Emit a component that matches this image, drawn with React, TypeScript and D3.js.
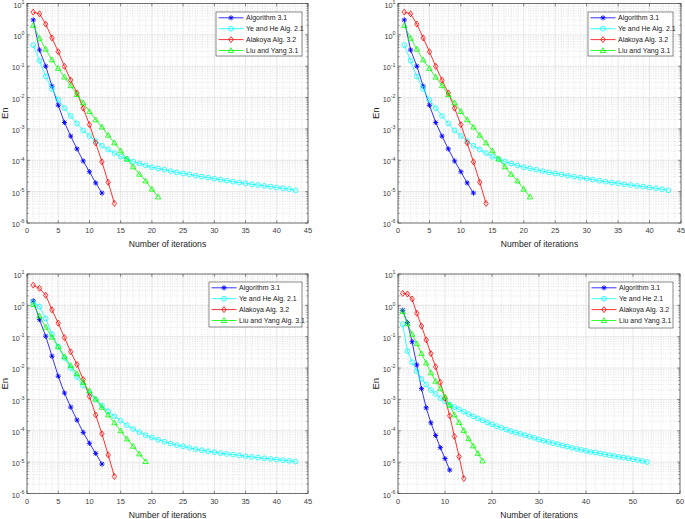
import React from 'react';
import * as d3 from 'd3';

// ---------- data ----------
const seriesNames = ['Algorithm 3.1', 'Ye and He Alg. 2.1', 'Alakoya Alg. 3.2', 'Liu and Yang 3.1'];
const seriesNames3 = ['Algorithm 3.1', 'Ye and He Alg. 2.1', 'Alakoya Alg. 3.2', 'Liu and Yang Alg. 3.1'];
const seriesNames4 = ['Algorithm 3.1', 'Ye and He 2.1', 'Alakoya Alg. 3.2', 'Liu and Yang 3.1'];

const p1Alg31 = [3.0, 0.33, 0.1, 0.023, 0.0057, 0.0016, 5.9e-4, 2.3e-4, 9.5e-5, 4.3e-5, 1.9e-5, 9e-6];
const p1YeHe = [0.47, 0.15, 0.047, 0.019, 0.0085, 4.6e-3, 2.6e-3, 1.5e-3, 9e-4, 6e-4,
  4.1e-4, 2.9e-4, 2.2e-4, 1.7e-4, 1.3e-4, 1.1e-4, 9.1e-5, 7.9e-5, 6.9e-5, 6.0e-5,
  5.5e-5, 5.0e-5, 4.5e-5, 4.1e-5, 3.8e-5, 3.56e-5, 3.23e-5, 3.0e-5, 2.79e-5, 2.6e-5,
  2.41e-5, 2.24e-5, 2.08e-5, 1.94e-5, 1.85e-5, 1.71e-5, 1.63e-5, 1.52e-5, 1.45e-5, 1.35e-5,
  1.28e-5, 1.2e-5, 1.1e-5];
const p1Alakoya = [5.3, 4.7, 2.2, 0.8, 0.29, 0.099, 0.036, 0.014, 4.6e-3, 1.37e-3, 3.6e-4, 8.9e-5, 2e-5, 4.2e-6];
const p1Liu = [2.0, 0.78, 0.35, 0.16, 0.085, 0.045, 0.024, 0.0125, 6.8e-3, 3.6e-3, 1.96e-3,
  1.15e-3, 6.3e-4, 3.6e-4, 2e-4, 1.1e-4, 6.2e-5, 3.6e-5, 2.2e-5, 1.2e-5, 6.8e-6];

const p3Alg31 = [1.4, 0.35, 0.104, 0.024, 5.5e-3, 1.6e-3, 5.7e-4, 2.2e-4, 8.9e-5, 4e-5, 1.9e-5, 8.7e-6];
const p3YeHe = [1.23, 0.92, 0.38, 0.12, 0.048, 0.021, 0.010, 5.2e-3, 2.8e-3, 1.6e-3,
  9.8e-4, 6.4e-4, 4.2e-4, 2.9e-4, 2.1e-4, 1.5e-4, 1.15e-4, 9.1e-5, 7.2e-5, 6.1e-5,
  5.2e-5, 4.5e-5, 3.9e-5, 3.5e-5, 3.2e-5, 2.85e-5, 2.6e-5, 2.4e-5, 2.23e-5, 2.08e-5,
  1.92e-5, 1.83e-5, 1.74e-5, 1.65e-5, 1.54e-5, 1.47e-5, 1.40e-5, 1.33e-5, 1.27e-5, 1.21e-5,
  1.15e-5, 1.10e-5, 1.05e-5];
const p3Alakoya = [4.4, 3.5, 2.1, 0.72, 0.27, 0.094, 0.033, 0.013, 4.3e-3, 1.25e-3, 3.2e-4, 8e-5, 1.7e-5, 3.5e-6];
const p3Liu = [1.07, 0.46, 0.2, 0.097, 0.048, 0.023, 0.012, 6.6e-3, 3.5e-3, 1.86e-3, 1.03e-3,
  5.6e-4, 3.2e-4, 1.8e-4, 1.0e-4, 5.5e-5, 3.2e-5, 1.83e-5, 1.05e-5];

const p4Alg31 = [0.7, 0.28, 0.069, 0.0126, 2.2e-3, 5.4e-4, 1.8e-4, 7.1e-5, 2.9e-5, 1.3e-5, 5.6e-6];
const p4YeHe = [0.25, 0.035, 0.0155, 7.9e-3, 4.5e-3, 3.0e-3, 2.0e-3, 1.5e-3, 1.1e-3, 8.7e-4,
  6.9e-4, 5.7e-4, 4.83e-4, 4.06e-4, 3.42e-4, 2.88e-4, 2.48e-4, 2.14e-4, 1.85e-4, 1.6e-4,
  1.41e-4, 1.25e-4, 1.1e-4, 9.75e-5, 8.85e-5, 8.0e-5, 7.26e-5, 6.58e-5, 5.97e-5, 5.27e-5,
  4.78e-5, 4.44e-5, 4.03e-5, 3.74e-5, 3.39e-5, 3.15e-5, 2.85e-5, 2.65e-5, 2.46e-5, 2.29e-5,
  2.12e-5, 2.02e-5, 1.88e-5, 1.79e-5, 1.66e-5, 1.58e-5, 1.47e-5, 1.40e-5, 1.33e-5, 1.24e-5,
  1.18e-5, 1.09e-5, 1.01e-5];
const p4Alakoya = [2.4, 2.3, 1.6, 0.56, 0.22, 0.079, 0.029, 0.011, 3.5e-3, 1.1e-3, 3.0e-4, 6.6e-5, 1.5e-5, 3.0e-6];
const p4Liu = [0.64, 0.26, 0.12, 0.06, 0.029, 0.0145, 7.1e-3, 3.8e-3, 2.2e-3, 1.2e-3, 6.5e-4,
  3.2e-4, 1.85e-4, 1.03e-4, 5.6e-5, 3.3e-5, 1.9e-5, 1.1e-5];

const xTicks45 = [0, 5, 10, 15, 20, 25, 30, 35, 40, 45];
const xTicks60 = [0, 10, 20, 30, 40, 50, 60];
const yExponents = [1, 0, -1, -2, -3, -4, -5, -6];

// ---------- style ----------
const colors = ['#0000ff', '#00ffff', '#ff0000', '#00ff00'];
const markers = ['star', 'circle', 'diamond', 'triangle'];
const FONT = 'Liberation Sans, Arial, Helvetica, sans-serif';
const AXC = '#404040';

type PanelCfg = {
  left: number; right: number; top: number; bottom: number;
  xMax: number; xTicks: number[]; xMinorStep: number;
  series: number[][]; names: string[];
  legend: { x: number; y: number; w: number; h: number };
};

const panels: PanelCfg[] = [
  { left: 27, right: 308, top: 3.5, bottom: 223, xMax: 45, xTicks: xTicks45, xMinorStep: 1,
    series: [p1Alg31, p1YeHe, p1Alakoya, p1Liu], names: seriesNames,
    legend: { x: 216, y: 12, w: 86, h: 44 } },
  { left: 398, right: 681, top: 3.5, bottom: 223, xMax: 45, xTicks: xTicks45, xMinorStep: 1,
    series: [p1Alg31, p1YeHe, p1Alakoya, p1Liu], names: seriesNames,
    legend: { x: 588, y: 12, w: 85, h: 44 } },
  { left: 27, right: 308, top: 274, bottom: 493.5, xMax: 45, xTicks: xTicks45, xMinorStep: 1,
    series: [p3Alg31, p3YeHe, p3Alakoya, p3Liu], names: seriesNames3,
    legend: { x: 209, y: 282, w: 93, h: 45 } },
  { left: 398, right: 680, top: 274, bottom: 493.5, xMax: 60, xTicks: xTicks60, xMinorStep: 2,
    series: [p4Alg31, p4YeHe, p4Alakoya, p4Liu], names: seriesNames4,
    legend: { x: 589, y: 282, w: 84, h: 46 } },
];

function Marker({ kind, x, y, color }: { kind: string; x: number; y: number; color: string }) {
  const s = 2.6;
  if (kind === 'circle') return <circle cx={x} cy={y} r={2.4} fill="none" stroke={color} strokeWidth={0.8} />;
  if (kind === 'diamond')
    return <path d={`M${x},${y - 3}L${x + 2.2},${y}L${x},${y + 3}L${x - 2.2},${y}Z`} fill="none" stroke={color} strokeWidth={0.8} />;
  if (kind === 'triangle')
    return <path d={`M${x},${y - 2.8}L${x + 2.7},${y + 2}L${x - 2.7},${y + 2}Z`} fill="none" stroke={color} strokeWidth={0.8} />;
  return (
    <path
      d={`M${x - s},${y}L${x + s},${y}M${x},${y - s}L${x},${y + s}M${x - s * 0.72},${y - s * 0.72}L${x + s * 0.72},${y + s * 0.72}M${x - s * 0.72},${y + s * 0.72}L${x + s * 0.72},${y - s * 0.72}`}
      stroke={color} strokeWidth={0.9} fill="none" />
  );
}

function Panel({ cfg }: { cfg: PanelCfg }) {
  const x = d3.scaleLinear().domain([0, cfg.xMax]).range([cfg.left, cfg.right]);
  const y = d3.scaleLog().domain([1e-6, 10]).range([cfg.bottom, cfg.top]);
  const line = d3.line<number>().x((_, i) => x(i + 1)).y((d) => y(d));

  const minorX = d3.range(0, cfg.xMax + 0.001, cfg.xMinorStep).filter((v) => !cfg.xTicks.includes(v));
  const minorY: number[] = [];
  for (let e = -6; e < 1; e++) for (let m = 2; m <= 9; m++) minorY.push(m * Math.pow(10, e));

  const tickLen = 2.8;
  const minorLen = 1.6;
  const midY = (cfg.top + cfg.bottom) / 2;
  const midX = (cfg.left + cfg.right) / 2;

  return (
    <g>
      <rect x={cfg.left} y={cfg.top} width={cfg.right - cfg.left} height={cfg.bottom - cfg.top} fill="#fff" />
      {/* minor grid */}
      {minorX.map((v) => (
        <line key={'mx' + v} x1={x(v)} x2={x(v)} y1={cfg.top} y2={cfg.bottom} stroke="#d4d4d4" strokeWidth={0.6} strokeDasharray="1,1.5" />
      ))}
      {minorY.map((v) => (
        <line key={'my' + v} x1={cfg.left} x2={cfg.right} y1={y(v)} y2={y(v)} stroke="#d4d4d4" strokeWidth={0.6} strokeDasharray="1,1.5" />
      ))}
      {/* major grid */}
      {cfg.xTicks.map((v) => (
        <line key={'gx' + v} x1={x(v)} x2={x(v)} y1={cfg.top} y2={cfg.bottom} stroke="#e1e1e1" strokeWidth={0.8} />
      ))}
      {yExponents.map((e) => (
        <line key={'gy' + e} x1={cfg.left} x2={cfg.right} y1={y(Math.pow(10, e))} y2={y(Math.pow(10, e))} stroke="#e1e1e1" strokeWidth={0.8} />
      ))}
      {/* ticks */}
      {cfg.xTicks.map((v) => (
        <g key={'tx' + v}>
          <line x1={x(v)} x2={x(v)} y1={cfg.bottom} y2={cfg.bottom - tickLen} stroke={AXC} strokeWidth={0.6} />
          <line x1={x(v)} x2={x(v)} y1={cfg.top} y2={cfg.top + tickLen} stroke={AXC} strokeWidth={0.6} />
          <text x={x(v)} y={cfg.bottom + 10} fontSize={7.5} textAnchor="middle" fill={AXC} fontFamily={FONT}>{v}</text>
        </g>
      ))}
      {minorY.map((v) => (
        <g key={'ty' + v}>
          <line x1={cfg.left} x2={cfg.left + minorLen} y1={y(v)} y2={y(v)} stroke={AXC} strokeWidth={0.5} />
          <line x1={cfg.right} x2={cfg.right - minorLen} y1={y(v)} y2={y(v)} stroke={AXC} strokeWidth={0.5} />
        </g>
      ))}
      {yExponents.map((e) => (
        <g key={'tye' + e}>
          <line x1={cfg.left} x2={cfg.left + tickLen} y1={y(Math.pow(10, e))} y2={y(Math.pow(10, e))} stroke={AXC} strokeWidth={0.6} />
          <line x1={cfg.right} x2={cfg.right - tickLen} y1={y(Math.pow(10, e))} y2={y(Math.pow(10, e))} stroke={AXC} strokeWidth={0.6} />
          <text x={cfg.left - 2.5} y={y(Math.pow(10, e)) + 4.2} fontSize={7.3} textAnchor="end" fill={AXC} fontFamily={FONT}>
            10<tspan dy={-3.8} fontSize={5.3}>{e}</tspan>
          </text>
        </g>
      ))}
      {/* axes box */}
      <rect x={cfg.left} y={cfg.top} width={cfg.right - cfg.left} height={cfg.bottom - cfg.top} fill="none" stroke={AXC} strokeWidth={0.7} />
      {/* series */}
      {cfg.series.map((s, si) => (
        <g key={'s' + si}>
          <path d={line(s) || ''} fill="none" stroke={colors[si]} strokeWidth={0.8} />
          {s.map((d, i) => (
            <Marker key={i} kind={markers[si]} x={x(i + 1)} y={y(d)} color={colors[si]} />
          ))}
        </g>
      ))}
      {/* legend */}
      <rect x={cfg.legend.x} y={cfg.legend.y} width={cfg.legend.w} height={cfg.legend.h} fill="#fff" stroke={AXC} strokeWidth={0.6} />
      {cfg.names.map((n, i) => {
        const ry = cfg.legend.y + 5.8 + i * 10.9;
        const lx = cfg.legend.x + 2.5;
        return (
          <g key={'l' + i}>
            <line x1={lx} x2={lx + 25} y1={ry} y2={ry} stroke={colors[i]} strokeWidth={0.8} />
            <Marker kind={markers[i]} x={lx + 12.5} y={ry} color={colors[i]} />
            <text x={lx + 27.5} y={ry + 2.5} fontSize={7} fill="#222" fontFamily={FONT}>{n}</text>
          </g>
        );
      })}
      {/* labels */}
      <text x={midX} y={cfg.bottom + 24} fontSize={8.6} textAnchor="middle" fill="#222" fontFamily={FONT}>Number of iterations</text>
      <text transform={`translate(${cfg.left - 19},${midY}) rotate(-90)`} fontSize={9.5} textAnchor="middle" fill="#222" fontFamily={FONT}>En</text>
    </g>
  );
}

export default function App() {
  return (
    <svg width={685} height={519} style={{ position: 'absolute', left: 0, top: 0, background: '#fff' }}>
      <rect width={685} height={519} fill="#fff" />
      {panels.map((p, i) => <Panel key={i} cfg={p} />)}
    </svg>
  );
}
